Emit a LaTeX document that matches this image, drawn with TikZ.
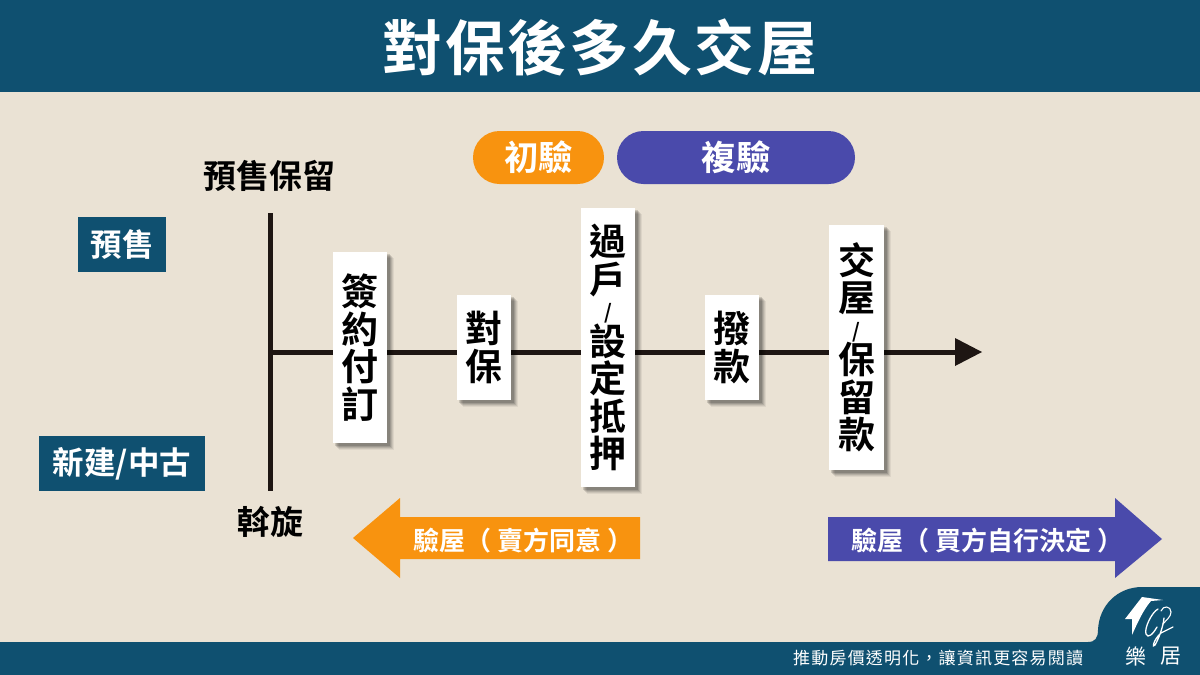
\documentclass[tikz,border=0pt]{standalone}
\usepackage{fontspec}
\setmainfont{Noto Sans CJK TC}[BoldFont={* Bold}]
\usetikzlibrary{arrows.meta}
\definecolor{teal}{HTML}{0F5070}
\definecolor{paper}{HTML}{EAE2D4}
\definecolor{ora}{HTML}{F8930F}
\definecolor{pur}{HTML}{4A4AAB}
\definecolor{ink}{HTML}{1E1613}
\tikzset{
  x=1pt,y=-1pt,
  txt/.style={inner sep=0pt,font=\bfseries\fontsize{#1}{#1}\selectfont},
  tagbox/.style={fill=teal,text=white,inner sep=0pt,minimum height=55pt,font=\bfseries\fontsize{31.5}{31.5}\selectfont},
  stepcard/.style={fill=white,text=black,inner sep=0pt,minimum width=54pt,align=center,
    font=\bfseries\fontsize{37}{37.5}\selectfont},
  pill/.style={rounded corners=26.5pt,text=white,inner sep=0pt,minimum height=53pt,font=\bfseries\fontsize{34.5}{34.5}\selectfont},
  axis/.style={ink,line width=5pt},
  arrowlabel/.style={text=white,inner sep=0pt,font=\bfseries\fontsize{26}{26}\selectfont},
}
\newcommand{\softshadow}[4]{% x1 y1 x2 y2
  \foreach \d/\o in {7/0.06,6/0.08,5/0.10,4/0.12,3/0.14}{
    \fill[black,opacity=\o] (#1+\d-1,#2+\d-1) rectangle (#3+\d,#4+\d);
  }
}
\newcommand{\vslash}{\\[-11pt]\fontsize{20}{20}\selectfont /\\[-2pt]}
\begin{document}
\begin{tikzpicture}
\useasboundingbox (0,0) rectangle (1200,675);
\fill[paper] (0,0) rectangle (1200,675);
\fill[teal] (0,0) rectangle (1200,92);
\fill[teal] (0,642) rectangle (1200,675);
% logo tab
\fill[teal] (1088,642) .. controls (1095,642) and (1098,638) .. (1098,630)
  .. controls (1099,605) and (1118,587) .. (1142,587) -- (1200,587) -- (1200,645) -- (1088,645) -- cycle;
% title
\node[txt=60,text=white] (title) at (600,47) {\addfontfeature{LetterSpace=4}對保後多久交屋};
% pills
\node[pill,fill=ora,minimum width=131pt] (first) at (538.5,157.5) {初驗};
\node[pill,fill=pur,minimum width=238pt] (second) at (736,157.5) {複驗};
% side labels
\node[tagbox,minimum width=88pt] (presale) at (122,244.5) {預售};
\node[tagbox,minimum width=166pt] (newbuilt) at (122,463.5) {新建/中古};
\node[txt=33] (top) at (269.5,176) {預售保留};
\node[txt=33] (bottom) at (270,522) {斡旋};
% axis
\coordinate (vtop) at (270,213);
\coordinate (vbot) at (270,491);
\coordinate (hstart) at (268,352);
\coordinate (hend) at (958,352);
\coordinate (tip) at (982,352);
\draw[axis] (vtop) -- (vbot);
\draw[axis] (hstart) -- (hend);
\fill[ink] (955,338) -- (tip) -- (955,366) -- cycle;
% cards
\softshadow{333}{252}{387}{443}
\node[stepcard,minimum height=191pt] (sign) at (360,347.5) {簽\\約\\付\\訂};
\softshadow{457}{295}{511}{400}
\node[stepcard,minimum height=105pt] (nota) at (484,347.5) {對\\保};
\softshadow{581}{208}{635}{487}
\node[stepcard,minimum height=279pt] (transfer) at (608,347.5) {過\\戶\vslash 設\\定\\抵\\押};
\softshadow{705}{295}{759}{400}
\node[stepcard,minimum height=105pt] (loan) at (732,347.5) {撥\\款};
\softshadow{829}{225}{884}{470}
\node[stepcard,minimum width=55pt,minimum height=245pt] (hand) at (856.5,347.5) {交\\屋\vslash 保\\留\\款};
% big arrows
\fill[ora] (353,538) -- (400,498) -- (400,517) -- (640,517) -- (640,559) -- (400,559) -- (400,578) -- cycle;
\node[arrowlabel,anchor=west] (sellerlabel) at (413,541) {驗屋（\hspace{6pt}賣方同意\hspace{6pt}）};
\fill[pur] (1162,539) -- (1115,498) -- (1115,517) -- (828,517) -- (828,561) -- (1115,561) -- (1115,578) -- cycle;
\node[arrowlabel,anchor=west] (buyerlabel) at (851,541) {驗屋（\hspace{6pt}買方自行決定\hspace{6pt}）};
% footer
\node[inner sep=0pt,text=white,font=\fontsize{17}{17}\selectfont,anchor=west] (slogan) at (793,658) {\addfontfeature{LetterSpace=7}推動房價透明化，讓資訊更容易閱讀};
% logo
\fill[white] (1125,619) -- (1142,597) -- (1163,600) -- (1151,601)
  .. controls (1143,610) and (1137,624) .. (1132,635) -- (1132,619) -- cycle;
\draw[white,line width=1.3pt,line cap=round] (1158,609) .. controls (1152,612) and (1144,628) .. (1146,634)
  .. controls (1148,639) and (1153,634) .. (1157,627);
\draw[white,line width=1.3pt,line cap=round] (1164,618) .. controls (1163,628) and (1158,640) .. (1155,645)
  .. controls (1152,649) and (1153,640) .. (1161,633) -- (1173,627);
\draw[white,line width=1.1pt,line cap=round] (1161,611) .. controls (1163,605) and (1171,606) .. (1171,612)
  .. controls (1171,617) and (1166,620) .. (1163,624);
\node[inner sep=0pt,text=white,font=\fontsize{21}{21}\selectfont] (logoa) at (1136,656) {樂};
\node[inner sep=0pt,text=white,font=\fontsize{21}{21}\selectfont] (logob) at (1171,656) {居};
\end{tikzpicture}
\end{document}
